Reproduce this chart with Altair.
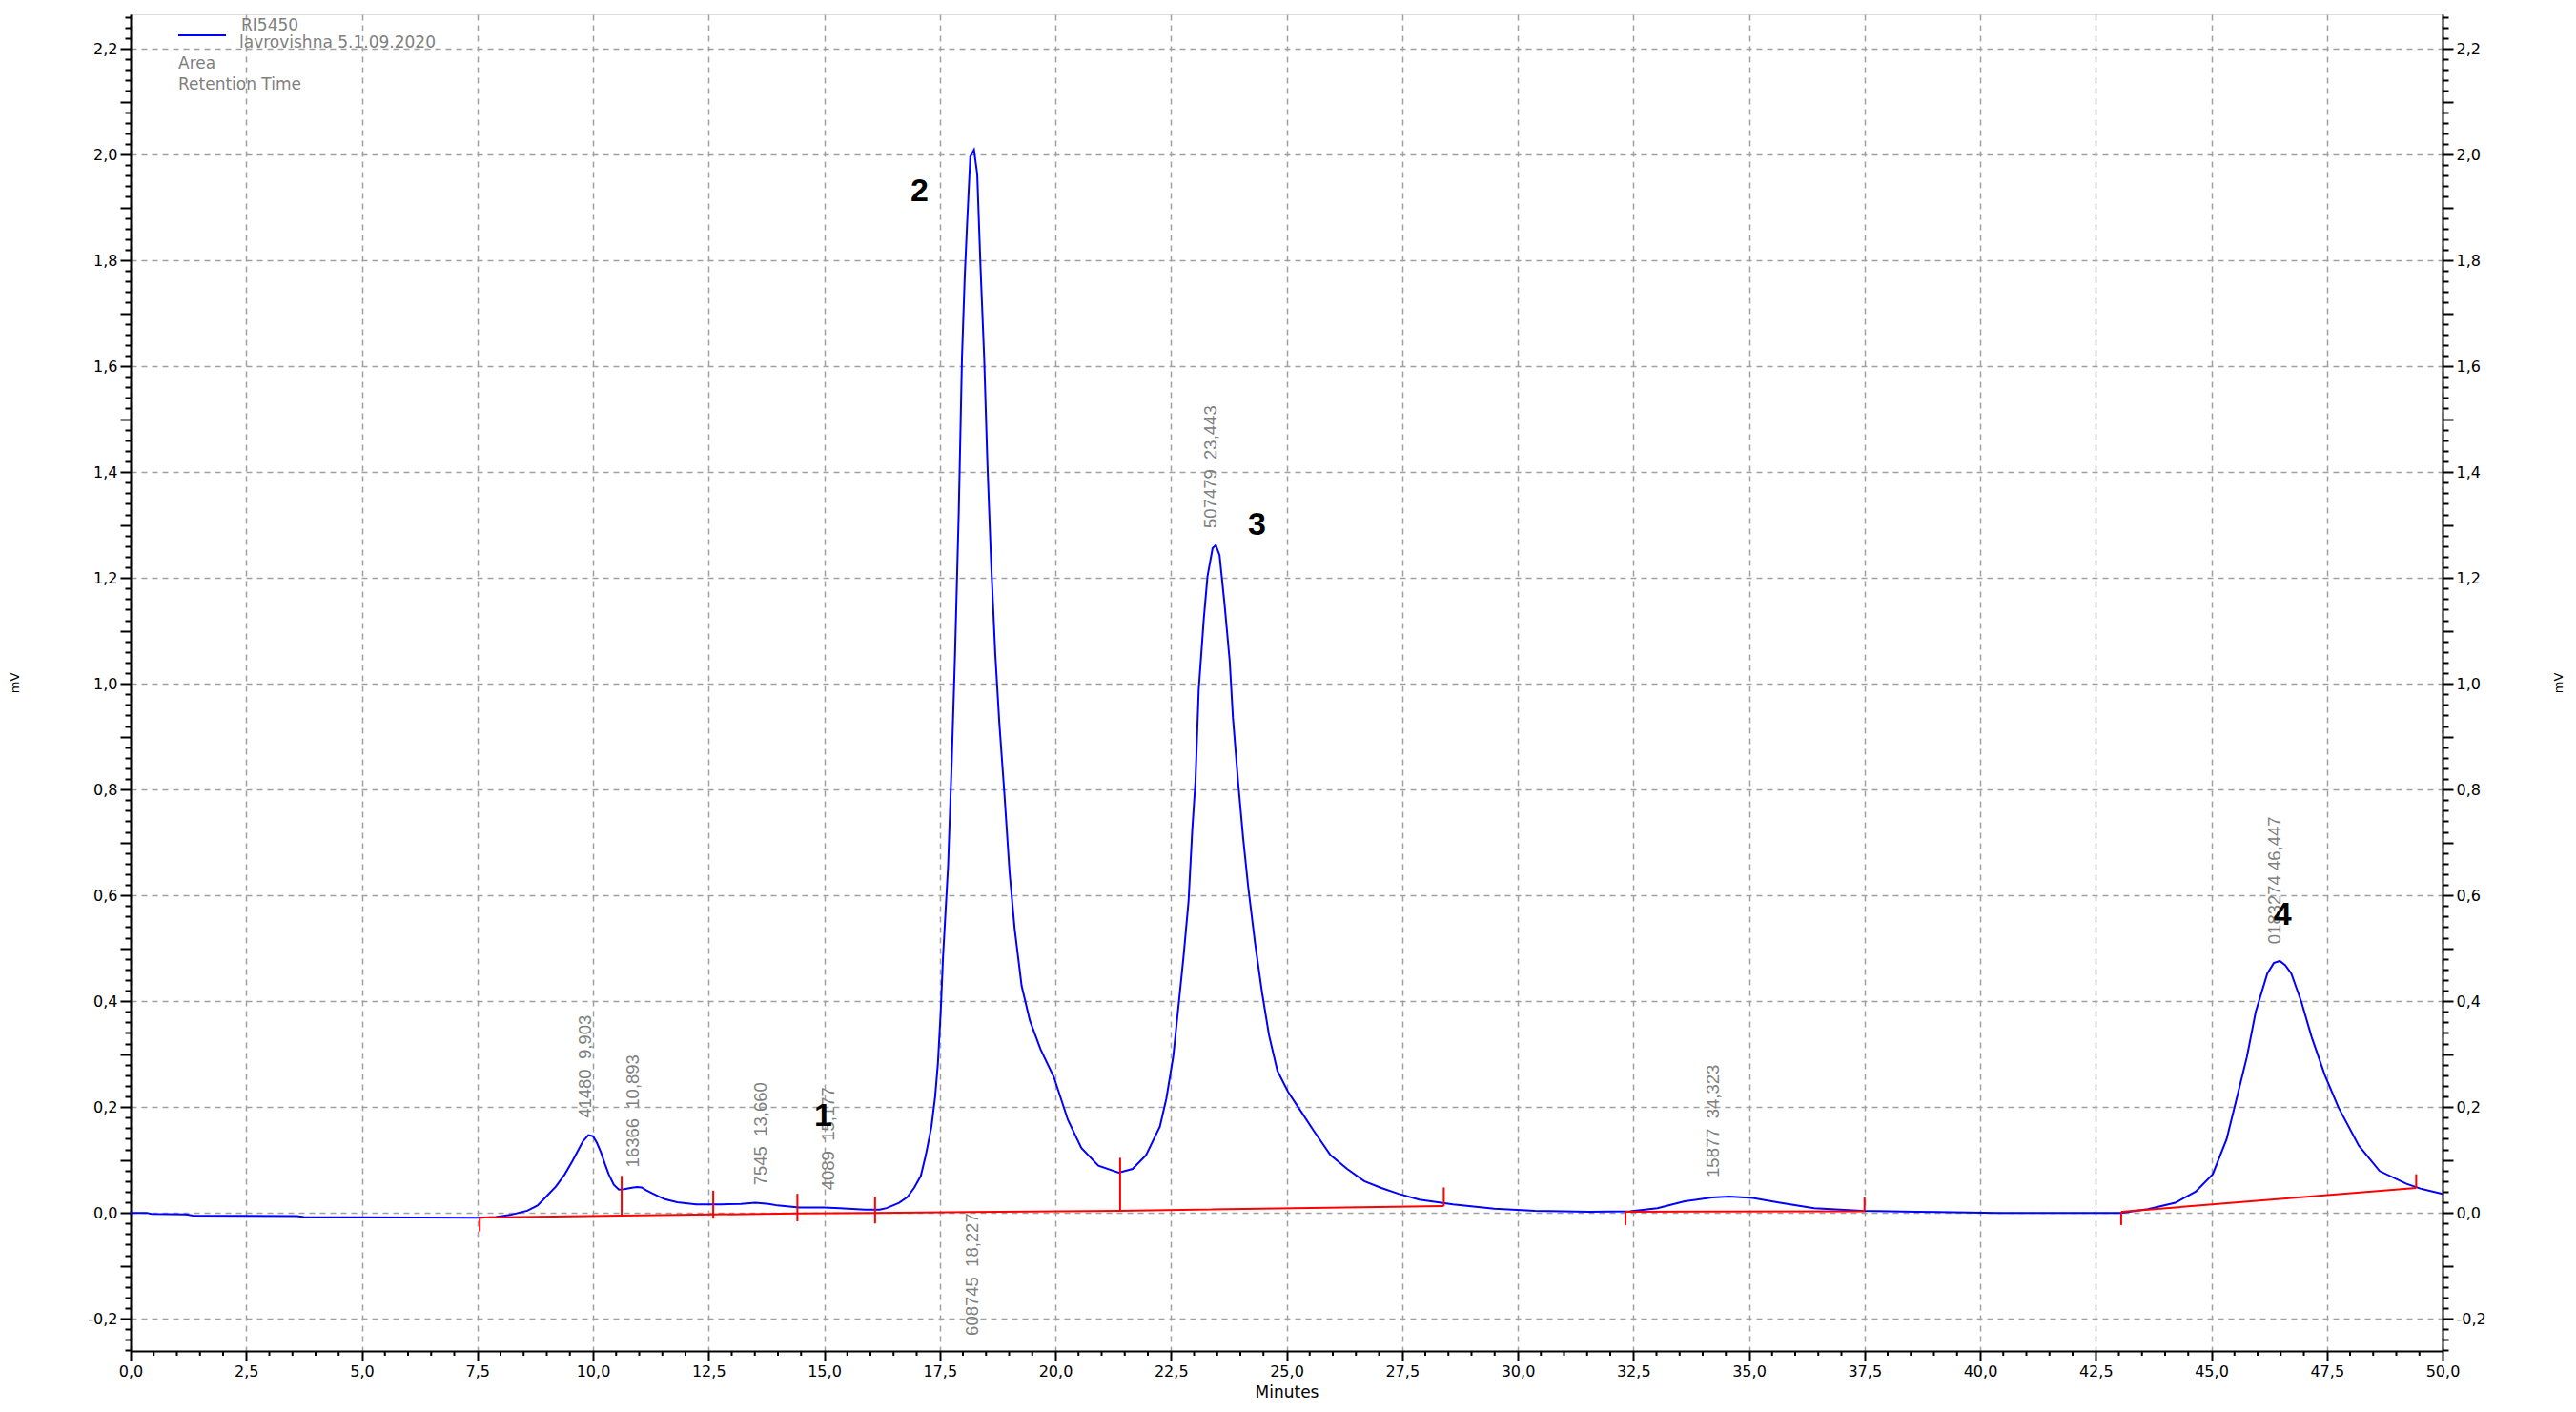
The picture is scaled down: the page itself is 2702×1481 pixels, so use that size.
import altair as alt
import pandas as pd

# ---------------- data ----------------
time_min = [0.0, 0.35, 0.45, 1.2, 1.35, 3.6, 3.75, 7.5, 7.9, 8.2, 8.58, 8.8, 8.99, 9.2, 9.39,
            9.55, 9.66, 9.78, 9.9, 10.0, 10.08, 10.17, 10.26, 10.34, 10.45, 10.56, 10.68, 10.81,
            10.95, 11.05, 11.15, 11.28, 11.42, 11.55, 11.82, 12.23, 12.77, 13.2, 13.51, 13.8,
            13.99, 14.46, 15.0, 15.34, 15.88, 16.2, 16.35, 16.62, 16.8, 16.95, 17.09, 17.2,
            17.32, 17.4, 17.46, 17.52, 17.57, 17.68, 17.76, 17.83, 17.91, 17.98, 18.04, 18.09,
            18.16, 18.24, 18.31, 18.38, 18.46, 18.53, 18.61, 18.70, 18.79, 18.90, 19.01, 19.12,
            19.27, 19.45, 19.68, 19.97, 20.27, 20.56, 20.93, 21.37, 21.67, 21.96, 22.26, 22.40,
            22.55, 22.66, 22.77, 22.88, 22.96, 23.03, 23.10, 23.21, 23.29, 23.40, 23.47, 23.55,
            23.66, 23.77, 23.84, 23.95, 24.06, 24.17, 24.32, 24.47, 24.62, 24.80, 25.03, 25.28,
            25.58, 25.95, 26.31, 26.68, 27.05, 27.42, 27.87, 28.6, 29.49, 30.37, 31.55, 32.43,
            33.02, 33.61, 34.2, 34.57, 35.08, 35.67, 36.41, 37.44, 38.62, 40.39, 43.04, 43.63,
            44.22, 44.66, 45.03, 45.33, 45.55, 45.77, 45.96, 46.21, 46.35, 46.48, 46.6, 46.73,
            46.95, 47.17, 47.46, 47.75, 48.19, 48.64, 49.22, 49.52, 50.0]
signal_mv = [0.0, 0.0, -0.002, -0.003, -0.005, -0.006, -0.008, -0.009, -0.008, -0.004, 0.004,
             0.014, 0.031, 0.05, 0.073, 0.097, 0.115, 0.135, 0.147, 0.145, 0.133, 0.115, 0.092,
             0.073, 0.053, 0.044, 0.045, 0.047, 0.049, 0.048, 0.043, 0.037, 0.031, 0.026, 0.02,
             0.016, 0.016, 0.017, 0.019, 0.017, 0.014, 0.01, 0.01, 0.009, 0.006, 0.006, 0.009,
             0.019, 0.03, 0.048, 0.07, 0.11, 0.163, 0.22, 0.283, 0.38, 0.483, 0.656, 0.856,
             1.056, 1.323, 1.616, 1.77, 1.869, 1.996, 2.009, 1.963, 1.789, 1.616, 1.416, 1.229,
             1.056, 0.923, 0.789, 0.643, 0.536, 0.429, 0.363, 0.309, 0.256, 0.176, 0.123, 0.089,
             0.076, 0.083, 0.109, 0.163, 0.216, 0.296, 0.389, 0.483, 0.589, 0.723, 0.816, 0.989,
             1.123, 1.203, 1.256, 1.262, 1.243, 1.149, 1.043, 0.936, 0.816, 0.709, 0.616, 0.509,
             0.416, 0.336, 0.269, 0.229, 0.196, 0.156, 0.109, 0.083, 0.06, 0.047, 0.036, 0.025,
             0.016, 0.008, 0.004, 0.002, 0.003, 0.009, 0.022, 0.029, 0.031, 0.028, 0.019, 0.009,
             0.004, 0.002, 0.0, 0.0, 0.007, 0.019, 0.04, 0.073, 0.139, 0.217, 0.295, 0.38, 0.452,
             0.472, 0.476, 0.468, 0.452, 0.398, 0.332, 0.259, 0.199, 0.127, 0.079, 0.055, 0.046,
             0.036]

# integration baseline (red) and its peak start/end marks
base_t = [7.55, 10.62, 12.6, 14.42, 16.1, 21.4, 28.4, 32.33, 37.5, 43.05, 49.43]
base_v = [-0.009, -0.005, -0.003, -0.001, 0.0, 0.004, 0.013, 0.002, 0.003, 0.002, 0.047]
base_seg = [1, 1, 1, 1, 1, 1, 1, 2, 2, 3, 3]
mark_lo = [-0.035, -0.006, -0.011, -0.016, -0.02, 0.004, 0.013, -0.023, 0.003, -0.023, 0.047]
mark_hi = [-0.009, 0.07, 0.042, 0.036, 0.031, 0.104, 0.048, 0.002, 0.029, 0.002, 0.073]

# area / retention-time annotations (non-breaking spaces keep the double gap)
ann_text = ["41480\u00a0\u00a09,903", "16366\u00a0\u00a010,893", "7545\u00a0\u00a013,660",
            "4089\u00a0\u00a015,177", "608745\u00a0\u00a018,227", "507479\u00a0\u00a023,443",
            "15877\u00a0\u00a034,323", "0183274\u00a046,447"]
ann_t = [9.83, 10.86, 13.62, 15.1, 18.2, 23.37, 34.23, 46.37]
ann_v = [0.179, 0.086, 0.052, 0.043, -0.232, 1.294, 0.067, 0.508]

# peak numbers
peak_text = ["1", "2", "3", "4"]
peak_t = [14.98, 17.06, 24.36, 46.54]
peak_v = [0.182, 1.93, 1.30, 0.562]

x_major = [round(2.5 * i, 1) for i in range(21)]
x_minor = [round(0.5 * i, 1) for i in range(101) if i % 5 != 0]
y_ticks = [round(-0.26 + 0.02 * i, 2) for i in range(127)]

# ---------------- chart ----------------
W, H = 2425, 1402
XD = [0, 50]
YD = [-0.261, 2.265]
xs = alt.Scale(domain=XD, nice=False, zero=False)
ys = alt.Scale(domain=YD, nice=False, zero=False)

AXF = "DejaVu Sans"
y_major = "abs(datum.value/0.2 - round(datum.value/0.2)) < 0.001"
y_mid = "abs(datum.value/0.1 - round(datum.value/0.1)) < 0.001"
y_label = (y_major + " ? ((datum.value < -0.001 ? '-' : '') + "
           "replace(format(abs(datum.value), '.1f'), '.', ',')) : ''")

x_axis = alt.Axis(
    orient="bottom", values=x_major, title="Minutes",
    labelExpr="replace(format(datum.value, '.1f'), '.', ',')",
    tickSize=10,
    grid=True, gridDash=[6, 5], gridColor="#a0a0a0", gridWidth=1.5,
    domainColor="black", domainWidth=2, tickColor="black", tickWidth=2,
    labelFont=AXF, labelFontSize=16, labelColor="black", labelPadding=3,
    labelFlush=False, labelOverlap=False,
    titleFont=AXF, titleFontSize=17, titleFontWeight="normal", titleColor="black",
    titleY=43, titleBaseline="middle",
)


def y_axis(orient, grid, title_x):
    return alt.Axis(
        orient=orient, values=y_ticks, title="mV", labelExpr=y_label,
        tickSize={"condition": {"test": y_mid, "value": 11}, "value": 6},
        grid=grid, gridDash=[6, 5], gridColor="#a0a0a0", gridWidth=1.5,
        gridOpacity={"condition": {"test": y_major, "value": 1}, "value": 0},
        domainColor="black", domainWidth=2, tickColor="black", tickWidth=2,
        labelFont=AXF, labelFontSize=16, labelColor="black", labelPadding=3,
        labelFlush=False, labelOverlap=False, labelBound=False,
        titleFont=AXF, titleFontSize=13, titleFontWeight="normal", titleColor="black",
        titleAngle=270, titleX=title_x, titleBaseline="middle",
    )


sig_df = pd.DataFrame({"t": time_min, "v": signal_mv})
base_df = pd.DataFrame({"t": base_t, "v": base_v, "seg": base_seg})
mark_df = pd.DataFrame({"t": base_t, "lo": mark_lo, "hi": mark_hi})
ann_df = pd.DataFrame({"t": ann_t, "v": ann_v, "txt": ann_text})
peak_df = pd.DataFrame({"t": peak_t, "v": peak_v, "txt": peak_text})
minor_df = pd.DataFrame({"t": x_minor})
one = pd.DataFrame({"k": [0]})

signal = alt.Chart(sig_df).mark_line(color="#0000ff", strokeWidth=2).encode(
    x=alt.X("t:Q", scale=xs, axis=x_axis),
    y=alt.Y("v:Q", scale=ys, axis=y_axis("left", True, -122)),
)

baseline = alt.Chart(base_df).mark_line(color="#ff0000", strokeWidth=2).encode(
    x=alt.X("t:Q", scale=xs, axis=None),
    y=alt.Y("v:Q", scale=ys, axis=y_axis("right", False, 121)),
    detail="seg:N",
)

marks = alt.Chart(mark_df).mark_rule(color="#ff0000", strokeWidth=2).encode(
    x=alt.X("t:Q", scale=xs, axis=None),
    y=alt.Y("lo:Q", scale=ys, axis=None),
    y2="hi:Q",
)

x_minor_ticks = alt.Chart(minor_df).mark_rule(color="black", strokeWidth=2).encode(
    x=alt.X("t:Q", scale=xs, axis=None),
    y=alt.value(H), y2=alt.value(H + 5),
)

ann = alt.Chart(ann_df).mark_text(
    angle=270, align="left", baseline="middle", color="#808080",
    font="Liberation Sans", fontSize=18.5,
).encode(
    x=alt.X("t:Q", scale=xs, axis=None),
    y=alt.Y("v:Q", scale=ys, axis=None),
    text="txt:N",
)

peaks = alt.Chart(peak_df).mark_text(
    align="center", baseline="middle", color="black",
    font="Liberation Sans", fontSize=34, fontWeight="bold",
).encode(
    x=alt.X("t:Q", scale=xs, axis=None),
    y=alt.Y("v:Q", scale=ys, axis=None),
    text="txt:N",
)

# legend block (top left of plot)
leg_line = alt.Chart(one).mark_rule(color="#0000ff", strokeWidth=2).encode(
    x=alt.value(50), x2=alt.value(100), y=alt.value(22))


def leg_text(txt, px, py):
    return alt.Chart(one).mark_text(
        text=txt, align="left", baseline="middle", color="#808080",
        font="DejaVu Sans", fontSize=17,
    ).encode(x=alt.value(px), y=alt.value(py))


legend = [leg_line,
          leg_text("RI5450", 116, 12),
          leg_text("lavrovishna 5.1.09.2020", 114, 30),
          leg_text("Area", 50, 52),
          leg_text("Retention Time", 50, 74)]

chart = alt.layer(signal, baseline, marks, x_minor_ticks, ann, peaks, *legend).resolve_axis(
    x="independent", y="independent"
).properties(
    width=W, height=H,
    autosize=alt.AutoSizeParams(type="none"),
    padding={"left": 129, "top": 7, "right": 130, "bottom": 56},
).configure_view(
    stroke="black", strokeWidth=2
).configure(background="white")

chart.save("out.html", embed_options={"renderer": "svg", "actions": False})
